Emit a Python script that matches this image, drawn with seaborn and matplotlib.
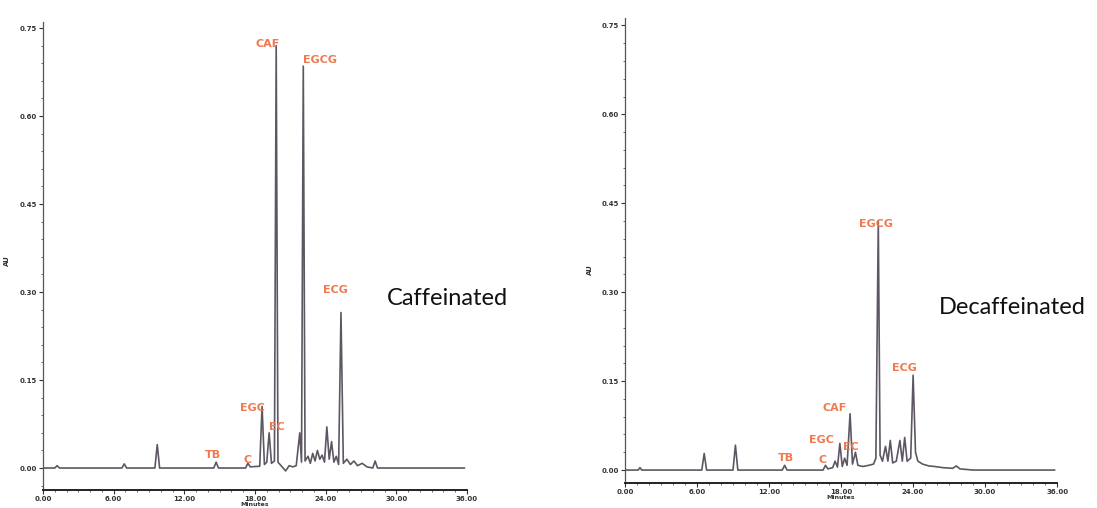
import numpy as np
import pandas as pd
import seaborn as sns
import matplotlib.pyplot as plt
from matplotlib.ticker import AutoMinorLocator

# chromatogram traces: (minutes, AU)
caf_trace = [
    (0.0, 0.0), (1.0, 0.0), (1.2, 0.004), (1.4, 0.0),
    (6.7, 0.0), (6.9, 0.007), (7.1, 0.0),
    (9.5, 0.0), (9.7, 0.040), (9.9, 0.0),
    (14.5, 0.0), (14.7, 0.010), (14.9, 0.0),
    (17.2, 0.0), (17.4, 0.008), (17.6, 0.002),
    (18.4, 0.003), (18.6, 0.105), (18.8, 0.006),
    (19.0, 0.010), (19.2, 0.060), (19.4, 0.008),
    (19.65, 0.012), (19.8, 0.720), (19.95, 0.010),
    (20.3, 0.002), (20.6, -0.005), (20.9, 0.004), (21.2, 0.002),
    (21.5, 0.004), (21.8, 0.060), (21.95, 0.010),
    (22.1, 0.685), (22.25, 0.012),
    (22.5, 0.020), (22.7, 0.008), (22.9, 0.025), (23.1, 0.012),
    (23.3, 0.030), (23.5, 0.015), (23.7, 0.022), (23.9, 0.010),
    (24.1, 0.070), (24.3, 0.015), (24.5, 0.045), (24.7, 0.010),
    (24.9, 0.020), (25.1, 0.006),
    (25.3, 0.265), (25.5, 0.008),
    (25.8, 0.015), (26.1, 0.006), (26.4, 0.012), (26.7, 0.004),
    (27.1, 0.008), (27.5, 0.002), (28.0, 0.0), (28.2, 0.012), (28.4, 0.0),
    (35.8, 0.0),
]

decaf_trace = [
    (0.0, 0.0), (1.1, 0.0), (1.25, 0.004), (1.4, 0.0),
    (6.4, 0.0), (6.6, 0.028), (6.8, 0.0),
    (9.0, 0.0), (9.2, 0.042), (9.4, 0.0),
    (13.1, 0.0), (13.3, 0.008), (13.5, 0.0),
    (16.5, 0.0), (16.7, 0.008), (16.9, 0.002),
    (17.3, 0.004), (17.5, 0.015), (17.7, 0.005),
    (17.9, 0.045), (18.1, 0.006), (18.3, 0.020), (18.5, 0.008),
    (18.75, 0.095), (18.95, 0.010), (19.2, 0.030), (19.4, 0.008),
    (19.8, 0.006), (20.3, 0.008), (20.7, 0.010),
    (20.9, 0.020), (21.1, 0.420), (21.25, 0.025),
    (21.45, 0.015), (21.7, 0.040), (21.9, 0.015), (22.1, 0.050), (22.3, 0.012),
    (22.6, 0.015), (22.9, 0.050), (23.1, 0.015), (23.3, 0.055), (23.5, 0.015),
    (23.8, 0.020), (24.0, 0.160), (24.2, 0.030), (24.4, 0.015),
    (24.8, 0.010), (25.3, 0.007), (25.8, 0.006), (26.5, 0.004),
    (27.3, 0.003), (27.6, 0.007), (27.9, 0.002), (29.0, 0.0),
    (35.8, 0.0),
]

# compound labels: (name, minutes, AU)
caf_labels = [
    ("CAF", 19.1, 0.722), ("EGCG", 23.5, 0.695), ("ECG", 24.8, 0.303),
    ("EGC", 17.8, 0.102), ("EC", 19.9, 0.070), ("TB", 14.4, 0.022),
    ("C", 17.4, 0.014),
]
decaf_labels = [
    ("EGCG", 20.9, 0.415), ("ECG", 23.3, 0.172), ("CAF", 17.5, 0.105),
    ("EGC", 16.4, 0.051), ("EC", 18.8, 0.039), ("TB", 13.4, 0.020),
    ("C", 16.5, 0.017),
]

y_ticks = [0.00, 0.15, 0.30, 0.45, 0.60, 0.75]
x_ticks = [0, 6, 12, 18, 24, 30, 36]

sns.set_style("ticks")

fig = plt.figure(figsize=(10.97, 5.08), dpi=100)
ax_left = fig.add_axes([0.0392, 0.0354, 0.3865, 0.921])
ax_right = fig.add_axes([0.5697, 0.049, 0.394, 0.915])

line_color = "#5e5763"
label_color = "#f07a50"

panels = [
    (ax_left, caf_trace, caf_labels, (-0.0375, 0.760), "Caffeinated", (0.408, 0.413), (-0.078, 0.49)),
    (ax_right, decaf_trace, decaf_labels, (-0.022, 0.762), "Decaffeinated", (0.923, 0.394), (-0.074, 0.46)),
]

for ax, trace, labels, ylim, name, name_pos, ylab_pos in panels:
    df = pd.DataFrame(trace, columns=["Minutes", "AU"])
    sns.lineplot(data=df, x="Minutes", y="AU", ax=ax, sort=False,
                 estimator=None, color=line_color, linewidth=1.2)

    for text, x, y in labels:
        ax.text(x, y, text, color=label_color, fontsize=8, fontweight="bold",
                ha="center", va="center")

    ax.set_xlim(0, 36)
    ax.set_ylim(*ylim)
    ax.set_xticks(x_ticks)
    ax.set_xticklabels([f"{t:.2f}" for t in x_ticks])
    ax.set_yticks(y_ticks)
    ax.set_yticklabels([f"{t:.2f}" for t in y_ticks])
    ax.xaxis.set_minor_locator(AutoMinorLocator(6))
    ax.yaxis.set_minor_locator(AutoMinorLocator(5))
    ax.tick_params(axis="both", which="major", labelsize=5, length=3,
                   width=0.8, colors="#333333", pad=1.5)
    ax.tick_params(axis="both", which="minor", length=1.5, width=0.6,
                   colors="#555555")
    for lab in ax.get_xticklabels() + ax.get_yticklabels():
        lab.set_fontweight("bold")

    ax.set_xlabel("Minutes", fontsize=4.5, fontweight="bold", labelpad=0, color="#333333")
    ax.set_ylabel("AU", fontsize=5, fontweight="bold", color="#333333")
    ax.yaxis.set_label_coords(*ylab_pos)

    sns.despine(ax=ax)
    ax.spines["left"].set_color("#555555")
    ax.spines["left"].set_linewidth(0.9)
    ax.spines["bottom"].set_color("#222222")
    ax.spines["bottom"].set_linewidth(1.4)
    ax.patch.set_alpha(0)

    fig.text(name_pos[0], name_pos[1], name, fontsize=17, family="Lato",
             color="#111111", ha="center", va="center")

fig.savefig("out.png", dpi=100)
